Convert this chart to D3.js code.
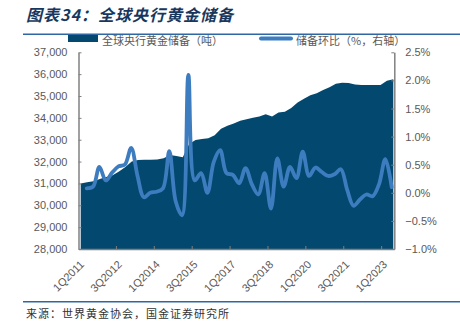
<!DOCTYPE html>
<html><head><meta charset="utf-8">
<script src="https://cdn.jsdelivr.net/npm/d3@7/dist/d3.min.js"></script>
<style>
html,body{margin:0;padding:0;background:#fff;}
svg{display:block;}
</style></head>
<body>
<svg id="chart" width="460" height="328"></svg>
<script>
const categories = ["1Q2011","2Q2011","3Q2011","4Q2011","1Q2012","2Q2012","3Q2012","4Q2012",
"1Q2013","2Q2013","3Q2013","4Q2013","1Q2014","2Q2014","3Q2014","4Q2014",
"1Q2015","2Q2015","3Q2015","4Q2015","1Q2016","2Q2016","3Q2016","4Q2016",
"1Q2017","2Q2017","3Q2017","4Q2017","1Q2018","2Q2018","3Q2018","4Q2018",
"1Q2019","2Q2019","3Q2019","4Q2019","1Q2020","2Q2020","3Q2020","4Q2020",
"1Q2021","2Q2021","3Q2021","4Q2021","1Q2022","2Q2022","3Q2022","4Q2022",
"1Q2023","2Q2023"];
const tickLabels = ["1Q2011","3Q2012","1Q2014","3Q2015","1Q2017","3Q2018","1Q2020","3Q2021","1Q2023"];
const reserves = [31000,31050,31100,31200,31300,31380,31550,31750,32000,32070,32080,32080,32100,32150,32300,32250,
32200,32800,32990,33030,33070,33200,33500,33640,33740,33870,33940,34000,34060,34160,34060,34240,
34280,34450,34700,34880,35040,35130,35270,35400,35560,35610,35600,35530,35500,35500,35500,35500,35700,35770];
const qoq = [null,0.08,0.11,0.46,0.22,0.36,0.47,0.50,0.80,0.30,-0.08,0.0,0.02,0.08,0.74,-0.15,
-0.40,2.10,0.22,0.35,0.0,0.55,0.76,0.35,0.32,0.17,0.44,0.15,-0.03,0.35,-0.28,0.61,
0.11,0.46,0.26,0.73,0.30,0.45,0.37,0.30,0.33,0.42,0.05,-0.23,-0.12,-0.03,-0.06,0.15,0.60,0.10];
const leftTicks = [28000,29000,30000,31000,32000,33000,34000,35000,36000,37000];
const rightTicks = [-1.0,-0.5,0.0,0.5,1.0,1.5,2.0,2.5];

const svg = d3.select("#chart");
const L = 78.5, R = 394.3, T = 52.3, B = 249;
const navy = "#03486e", lineBlue = "#3d7dbf", axisGray = "#808080", txtGray = "#595959";

// title
svg.append("text").attr("x",26).attr("y",21)
  .attr("font-family","'Noto Sans CJK SC',sans-serif").attr("font-size",16)
  .attr("font-weight","bold").attr("font-style","italic").attr("letter-spacing",1)
  .attr("fill","#17375e").text("图表34：全球央行黄金储备");
svg.append("line").attr("x1",23).attr("x2",460).attr("y1",34.3).attr("y2",34.3)
  .attr("stroke","#2e67a3").attr("stroke-width",1.5);

// scales
const xBand = d3.scaleBand().domain(categories).range([L,R]).padding(0);
const xArea = d3.scalePoint().domain(categories).range([80.7,393.3]);
const xLine = d3.scalePoint().domain(categories.slice(1)).range([86.7,391.7]);
const yL = d3.scaleLinear().domain([28000,37000]).range([B,T]);
const yR = d3.scaleLinear().domain([-1.0,2.5]).range([B,T]);

// area
const area = d3.area().x((d,i)=>xArea(categories[i])).y0(yL(28000)).y1(d=>yL(d));
svg.append("path").datum(reserves).attr("d",area).attr("fill",navy);

// line
const lineData = categories.map((c,i)=>({c,v:qoq[i]})).filter(d=>d.v!==null);
const line = d3.line().x(d=>xLine(d.c)).y(d=>yR(d.v)).curve(d3.curveCatmullRom.alpha(0.5));
svg.append("path").datum(lineData).attr("d",line).attr("fill","none")
  .attr("stroke",lineBlue).attr("stroke-width",3.8).attr("stroke-linejoin","round").attr("stroke-linecap","round");

// axes
const fmtL = d3.format(",");
const axL = svg.append("g").attr("transform",`translate(${L},0)`)
  .call(d3.axisLeft(yL).tickValues(leftTicks).tickFormat(fmtL).tickSizeInner(-3).tickSizeOuter(0).tickPadding(11));
const axR = svg.append("g").attr("transform",`translate(${R},0)`)
  .call(d3.axisRight(yR).tickValues(rightTicks).tickFormat(d=>d3.format(".1f")(d)+"%").tickSizeInner(-3).tickSizeOuter(0).tickPadding(11));
const axB = svg.append("g").attr("transform",`translate(0,${B})`)
  .call(d3.axisBottom(xBand).tickValues(tickLabels).tickSize(0).tickFormat(d=>d));
axB.selectAll("text").attr("text-anchor","end").attr("dy",null).attr("y",0)
  .attr("transform",function(d){return `translate(${1},${14}) rotate(-45)`;})
  .attr("dominant-baseline","middle");
// bottom tick marks at band boundaries every 6 categories
const bTicks = categories.filter((c,i)=>i%6===0 && i>0);
axB.selectAll(".btick").data(bTicks).enter().append("line").attr("class","btick")
  .attr("x1",d=>xBand(d)).attr("x2",d=>xBand(d)).attr("y1",0).attr("y2",-3);
[axL,axR,axB].forEach(g=>{
  g.selectAll("path.domain").attr("stroke",axisGray).attr("stroke-width",1.5);
  g.selectAll("line").attr("stroke",axisGray).attr("stroke-width",1);
  g.selectAll("text").attr("fill",txtGray).attr("font-size",11)
    .attr("font-family","'Liberation Sans',Arial,sans-serif");
});

// legend
const lg = svg.append("g").attr("font-family","'Noto Sans CJK SC',sans-serif").attr("font-size",11).attr("fill",txtGray);
lg.append("rect").attr("x",68).attr("y",35).attr("width",30).attr("height",7).attr("fill",navy);
lg.append("text").attr("x",102).attr("y",42).attr("dominant-baseline","middle").text("全球央行黄金储备（吨）");
lg.append("line").attr("x1",261).attr("x2",291).attr("y1",38.5).attr("y2",38.5)
  .attr("stroke",lineBlue).attr("stroke-width",4).attr("stroke-linecap","round");
lg.append("text").attr("x",296).attr("y",42).attr("dominant-baseline","middle").text("储备环比（%，右轴）");

// footer
svg.append("line").attr("x1",23).attr("x2",460).attr("y1",301.7).attr("y2",301.7)
  .attr("stroke","#2e67a3").attr("stroke-width",1.5);
svg.append("text").attr("x",26).attr("y",318)
  .attr("font-family","'Noto Sans CJK SC',sans-serif").attr("font-size",11).attr("letter-spacing",1)
  .attr("fill","#333").text("来源：世界黄金协会，国金证券研究所");
</script>
</body></html>
